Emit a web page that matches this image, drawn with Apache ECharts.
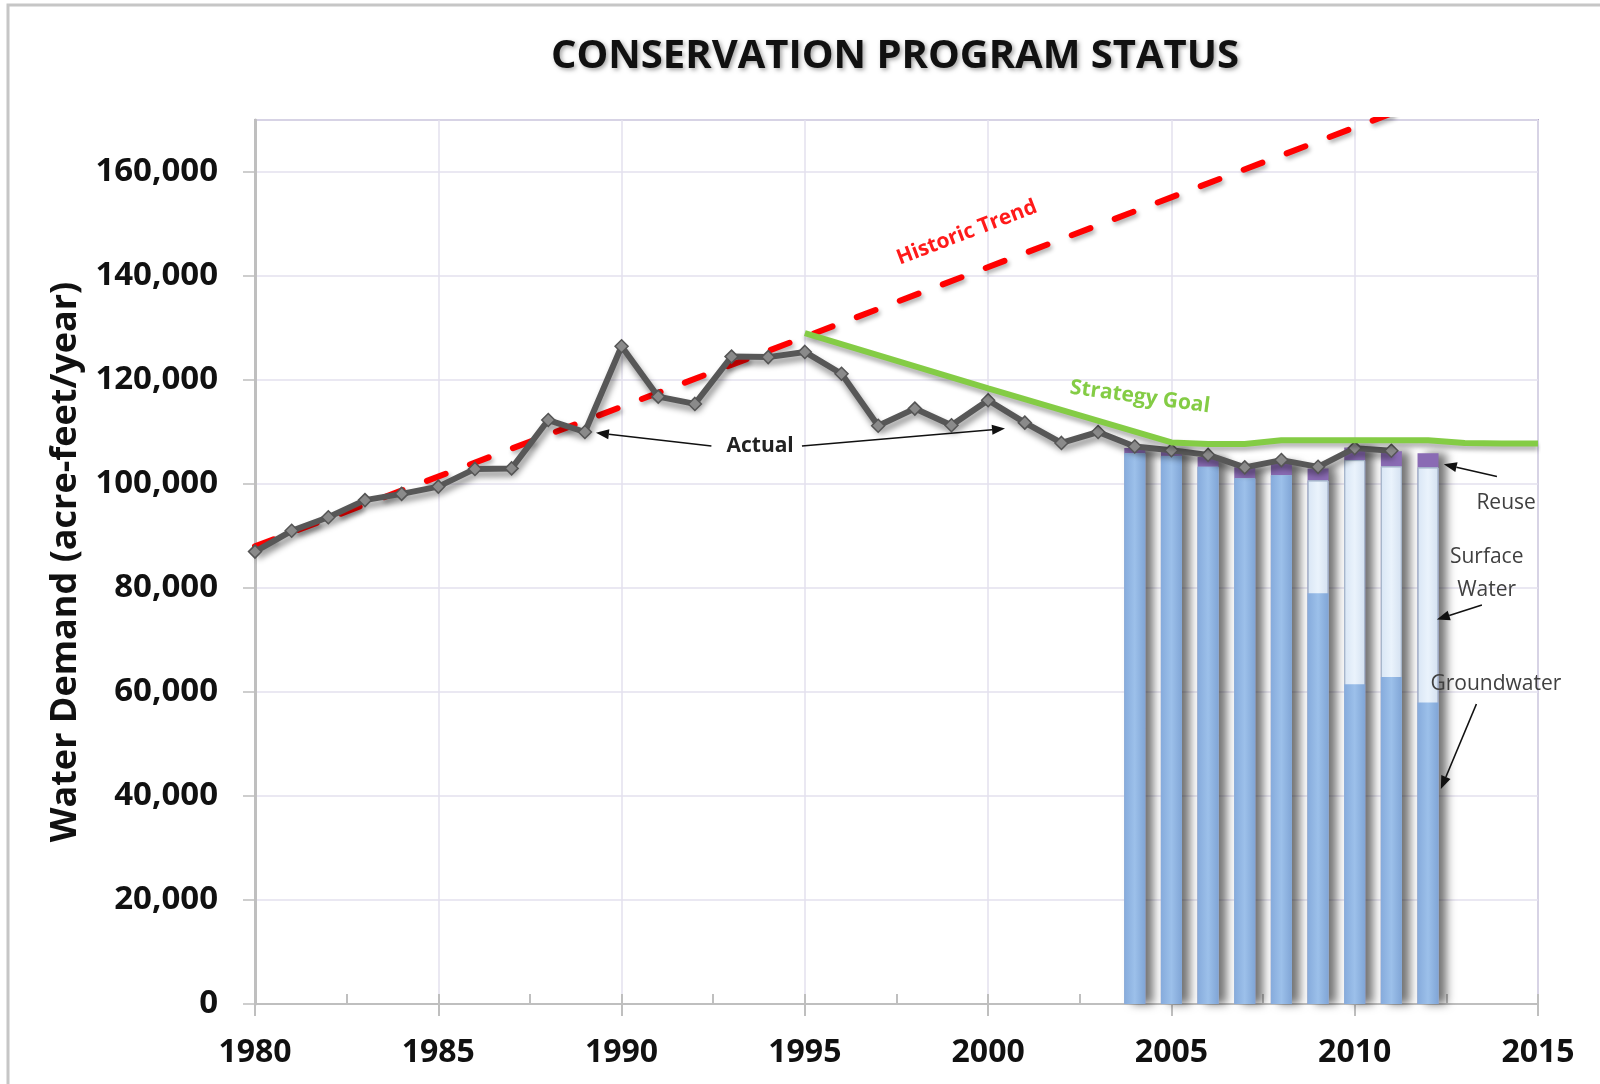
<!DOCTYPE html>
<html>
<head>
<meta charset="utf-8">
<title>Conservation Program Status</title>
<script src="https://cdn.jsdelivr.net/npm/echarts@6/dist/echarts.min.js"></script>
<style>
    html, body { margin: 0; padding: 0; background: #fff; }
    #chart { width: 1600px; height: 1084px; }
</style>
</head>
<body>
<div id="chart"></div>
<script>
// 实际用水量 (acre-feet/year)
const actualYears = [1980, 1981, 1982, 1983, 1984, 1985, 1986, 1987, 1988, 1989, 1990, 1991, 1992, 1993, 1994, 1995,
    1996, 1997, 1998, 1999, 2000, 2001, 2002, 2003, 2004, 2005, 2006, 2007, 2008, 2009, 2010, 2011]
const actualValues = [87000, 91000, 93600, 96900, 98100, 99500, 102900, 103000, 112300, 110000, 126500, 116800, 115400, 124500, 124400, 125400,
    121200, 111200, 114500, 111300, 116100, 111800, 107900, 110000, 107200, 106500, 105600, 103200, 104600, 103300, 106900, 106400]

// 历史趋势 (虚线)
const trendYears = [1980, 2015]
const trendValues = [88000, 182000]

// 策略目标
const goalYears = [1995, 2000, 2005, 2006, 2007, 2008, 2009, 2010, 2011, 2012, 2013, 2014, 2015]
const goalValues = [129000, 118400, 108000, 107700, 107700, 108400, 108400, 108400, 108400, 108400, 107900, 107800, 107800]

// 水源构成
const sourceYears = [2004, 2005, 2006, 2007, 2008, 2009, 2010, 2011, 2012]
const groundwater = [105900, 105400, 103300, 101100, 101700, 79000, 61500, 62900, 58000]
const surfaceWater = [0, 0, 0, 0, 0, 21700, 43100, 40500, 45200]
const reuse = [1000, 1300, 1900, 2100, 2200, 2300, 2400, 2900, 2700]

const yTicks = [0, 20000, 40000, 60000, 80000, 100000, 120000, 140000, 160000]

const pairs = (xs, ys) => xs.map((x, i) => [x, ys[i]])
const fontCal = '"Open Sans", "Noto Sans", sans-serif'

// 堆叠顶部 (值轴上自己累加, 后画的盖在前面)
const gwTop = groundwater
const swTop = groundwater.map((v, i) => v + surfaceWater[i])
const reuseTop = swTop.map((v, i) => v + reuse[i])

const chart = echarts.init(document.getElementById('chart'))

const option = {
    backgroundColor: '#fff',
    animation: false,
    title: {
        text: 'CONSERVATION PROGRAM STATUS',
        left: 890,
        top: 32,
        textAlign: 'center',
        textStyle: {
            fontFamily: '"Liberation Sans Narrow", "Open Sans", sans-serif',
            fontWeight: 'bold',
            fontSize: 40,
            color: '#111',
            textShadowColor: 'rgba(0,0,0,0.35)',
            textShadowBlur: 4,
            textShadowOffsetX: 2,
            textShadowOffsetY: 2
        }
    },
    grid: {
        left: 255,
        right: 62,
        top: 120,
        bottom: 80,
        show: true,
        borderColor: '#b4aacb',
        borderWidth: 2,
        containLabel: false
    },
    xAxis: [{
        type: 'value',
        min: 1980,
        max: 2015,
        interval: 5,
        axisLine: { show: true, onZero: false, lineStyle: { color: '#bfbfbf', width: 2 } },
        axisTick: { show: true, length: 12, lineStyle: { color: '#bfbfbf', width: 2 } },
        axisLabel: {
            margin: 33,
            fontFamily: fontCal,
            fontWeight: 'bold',
            fontSize: 32,
            color: '#111',
            formatter: v => String(v)
        },
        splitLine: { show: true, lineStyle: { color: '#e3e1ee', width: 1.5 } }
    }, {
        type: 'value',
        min: 1980,
        max: 2015,
        interval: 2.5,
        position: 'bottom',
        axisLine: { show: false },
        axisTick: { show: true, inside: true, length: 10, lineStyle: { color: '#bfbfbf', width: 2 } },
        axisLabel: { show: false },
        splitLine: { show: false }
    }],
    yAxis: {
        type: 'value',
        min: 0,
        max: 170000,
        interval: 20000,
        name: 'Water Demand (acre-feet/year)',
        nameLocation: 'middle',
        nameGap: 171,
        nameTextStyle: {
            fontFamily: fontCal,
            fontWeight: 'bold',
            fontSize: 36,
            color: '#111'
        },
        axisLine: { show: true, lineStyle: { color: '#bfbfbf', width: 3 } },
        axisTick: { show: true, length: 12, lineStyle: { color: '#bfbfbf', width: 1.5 } },
        axisLabel: {
            margin: 37,
            showMaxLabel: false,
            fontFamily: fontCal,
            fontWeight: 'bold',
            fontSize: 33,
            color: '#111',
            formatter: v => yTicks.indexOf(v) >= 0 ? v.toLocaleString('en-US') : ''
        },
        splitLine: { show: true, lineStyle: { color: '#e3e1ee', width: 1.5 } }
    },
    series: [{
        name: 'Reuse',
        type: 'bar',
        barWidth: 21,
        barGap: '-100%',
        data: pairs(sourceYears, reuseTop),
        itemStyle: {
            color: '#8a6bb4',
            shadowColor: 'rgba(0,0,0,0.55)',
            shadowBlur: 10,
            shadowOffsetX: 8,
            shadowOffsetY: 0
        }
    }, {
        name: 'Surface Water',
        type: 'bar',
        barWidth: 21,
        barGap: '-100%',
        data: pairs(sourceYears, swTop),
        itemStyle: {
            color: new echarts.graphic.LinearGradient(0, 0, 1, 0, [
                { offset: 0, color: '#d9e6f5' },
                { offset: 0.5, color: '#eaf3fc' },
                { offset: 1, color: '#d3e0f0' }
            ]),
            borderColor: '#a7b7cc',
            borderWidth: 1
        }
    }, {
        name: 'Groundwater',
        type: 'bar',
        barWidth: 21,
        barGap: '-100%',
        data: pairs(sourceYears, gwTop),
        itemStyle: {
            color: new echarts.graphic.LinearGradient(0, 0, 1, 0, [
                { offset: 0, color: '#86abdc' },
                { offset: 0.5, color: '#9cc0ea' },
                { offset: 1, color: '#80a5d6' }
            ])
        }
    }, {
        name: 'Historic Trend',
        type: 'line',
        data: pairs(trendYears, trendValues),
        symbol: 'none',
        clip: true,
        z: 3,
        lineStyle: {
            color: '#ff0000',
            width: 6,
            type: [20, 26],
            cap: 'round',
            shadowColor: 'rgba(0,0,0,0.3)',
            shadowBlur: 4,
            shadowOffsetX: 2,
            shadowOffsetY: 3
        }
    }, {
        name: 'Actual',
        type: 'line',
        data: pairs(actualYears, actualValues),
        symbol: 'diamond',
        symbolSize: 13,
        z: 4,
        itemStyle: { color: '#8a8a8a', borderColor: '#555', borderWidth: 1.5 },
        lineStyle: {
            color: '#575757',
            width: 6,
            shadowColor: 'rgba(0,0,0,0.45)',
            shadowBlur: 6,
            shadowOffsetX: 2,
            shadowOffsetY: 5
        }
    }, {
        name: 'Strategy Goal',
        type: 'line',
        data: pairs(goalYears, goalValues),
        symbol: 'none',
        z: 5,
        lineStyle: {
            color: '#84cc45',
            width: 6,
            shadowColor: 'rgba(0,0,0,0.3)',
            shadowBlur: 4,
            shadowOffsetY: 4
        }
    }]
}

chart.setOption(option)

// 注释文字和箭头 (数据坐标 -> 像素)
const px = p => chart.convertToPixel({ gridIndex: 0 }, p)

function arrow (from, to) {
    let a = px(from)
    let b = px(to)
    let ang = Math.atan2(b[1] - a[1], b[0] - a[0])
    let len = 13
    let w = 5
    let bx = b[0] - len * Math.cos(ang)
    let by = b[1] - len * Math.sin(ang)
    return [{
        type: 'line',
        shape: { x1: a[0], y1: a[1], x2: bx, y2: by },
        style: { stroke: '#111', lineWidth: 1.6 },
        z: 20
    }, {
        type: 'polygon',
        shape: {
            points: [
                [b[0], b[1]],
                [bx + w * Math.sin(ang), by - w * Math.cos(ang)],
                [bx - w * Math.sin(ang), by + w * Math.cos(ang)]
            ]
        },
        style: { fill: '#111' },
        z: 20
    }]
}

function note (text, at, opt) {
    let p = px(at)
    return Object.assign({
        type: 'text',
        x: p[0],
        y: p[1],
        z: 21,
        style: Object.assign({
            text: text,
            align: 'center',
            verticalAlign: 'middle',
            fontFamily: fontCal,
            fontSize: 21,
            fill: '#404040',
            lineHeight: 33
        }, opt && opt.style)
    }, opt && opt.el)
}

const graphics = [
    {
        type: 'rect',
        shape: { x: 8, y: 5, width: 1700, height: 1200 },
        style: { fill: null, stroke: '#c6c6c6', lineWidth: 3 },
        z: -1,
        silent: true
    },
    note('Actual', [1993.78, 107300], { style: { fontWeight: 'bold', fill: '#222', backgroundColor: '#fff', padding: [0, 3] } }),
    ...arrow([1992.45, 107300], [1989.3, 109860]),
    ...arrow([1994.92, 107300], [2000.46, 110650]),
    note('Reuse', [2014.13, 96340]),
    ...arrow([2013.88, 101440], [2012.43, 103790]),
    note('Surface\nWater', [2013.6, 82880]),
    ...arrow([2013.47, 76730], [2012.24, 73960]),
    note('Groundwater', [2013.85, 61590]),
    ...arrow([2013.32, 57690], [2012.35, 41340]),
    note('Historic Trend', [1999.42, 148330], {
        style: { fontWeight: 'bold', fontSize: 21, fill: '#ff1a1a' },
        el: { rotation: 0.365 }
    }),
    note('Strategy Goal', [2004.14, 116730], {
        style: { fontWeight: 'bold', fontSize: 21, fill: '#84cc45' },
        el: { rotation: -0.133 }
    })
]

chart.setOption({ graphic: graphics })
</script>
</body>
</html>
